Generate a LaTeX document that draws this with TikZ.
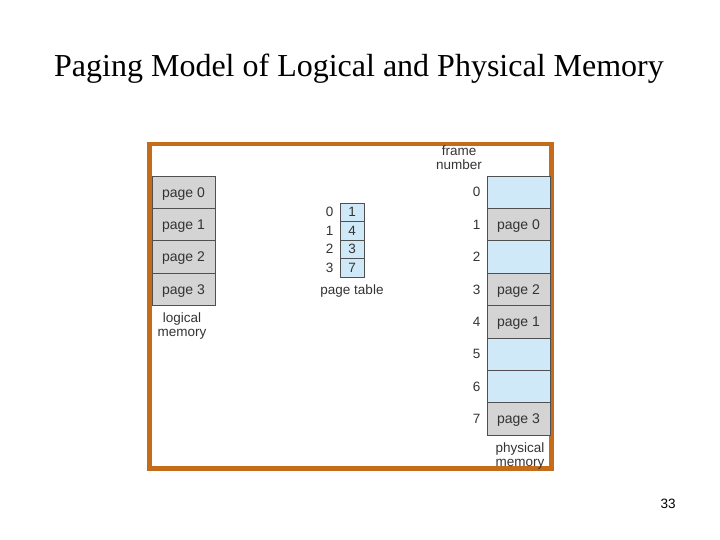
\documentclass[tikz,border=0pt]{standalone}
\usepackage{fontspec}
\usetikzlibrary{positioning}
\setmainfont{Liberation Serif}
\newfontfamily\labelfont{Liberation Sans}
\definecolor{framebrown}{RGB}{196,108,26}
\definecolor{pagegray}{RGB}{212,212,212}
\definecolor{freeblue}{RGB}{207,233,248}
\definecolor{edgegray}{RGB}{80,80,80}
\begin{document}
\begin{tikzpicture}[x=1pt,y=-1pt,
  pagebox/.style={draw=edgegray, line width=0.8pt, fill=pagegray, minimum width=63pt, minimum height=32.4pt, inner sep=0pt, text depth=0pt, font=\labelfont\fontsize{14}{14}\selectfont, text=black!80},
  freebox/.style={pagebox, fill=freeblue},
  cellbox/.style={draw=edgegray, line width=0.8pt, fill=freeblue, minimum width=24pt, minimum height=18.5pt, inner sep=0pt, font=\labelfont\fontsize{13.5}{13.5}\selectfont, text=black!80},
  lbl/.style={font=\labelfont\fontsize{13.5}{14}\selectfont, text=black!80, align=center, inner sep=0pt}]
\useasboundingbox (0,0) rectangle (720,540);
\node[font=\fontsize{32}{32}\selectfont, inner sep=0pt, anchor=base] (title) at (359,77) {Paging Model of Logical and Physical Memory};
\draw[framebrown, line width=4.3pt] (149.5,144) rectangle (551.5,468.5);
% logical memory
\node[pagebox] (l0) at (183.5,192.2) {page 0};
\node[pagebox] (l1) at (183.5,224.6) {page 1};
\node[pagebox] (l2) at (183.5,257.0) {page 2};
\node[pagebox] (l3) at (183.5,289.4) {page 3};
\node[lbl] (lmem) at (182,326) {logical\\memory};
% page table
\node[cellbox] (t0) at (352,212.2) {1};
\node[cellbox] (t1) at (352,230.7) {4};
\node[cellbox] (t2) at (352,249.2) {3};
\node[cellbox] (t3) at (352,267.7) {7};
\node[lbl, left=6pt of t0] (i0) {0};
\node[lbl, left=6pt of t1] (i1) {1};
\node[lbl, left=6pt of t2] (i2) {2};
\node[lbl, left=6pt of t3] (i3) {3};
\node[lbl] (ptab) at (352,291) {page table};
% physical memory
\node[freebox] (f0) at (518.5,192.2) {};
\node[pagebox] (f1) at (518.5,224.6) {page 0};
\node[freebox] (f2) at (518.5,257.0) {};
\node[pagebox] (f3) at (518.5,289.4) {page 2};
\node[pagebox] (f4) at (518.5,321.8) {page 1};
\node[freebox] (f5) at (518.5,354.2) {};
\node[freebox] (f6) at (518.5,386.6) {};
\node[pagebox] (f7) at (518.5,419.0) {page 3};
\node[lbl, left=6pt of f0] (n0) {0};
\node[lbl, left=6pt of f1] (n1) {1};
\node[lbl, left=6pt of f2] (n2) {2};
\node[lbl, left=6pt of f3] (n3) {3};
\node[lbl, left=6pt of f4] (n4) {4};
\node[lbl, left=6pt of f5] (n5) {5};
\node[lbl, left=6pt of f6] (n6) {6};
\node[lbl, left=6pt of f7] (n7) {7};
\node[lbl] (fnum) at (459,158) {frame\\number};
\node[lbl] (pmem) at (520,456) {physical\\memory};
\node[font=\labelfont\fontsize{13.5}{13.5}\selectfont, inner sep=0pt] (slide) at (668,504) {33};
\end{tikzpicture}
\end{document}
